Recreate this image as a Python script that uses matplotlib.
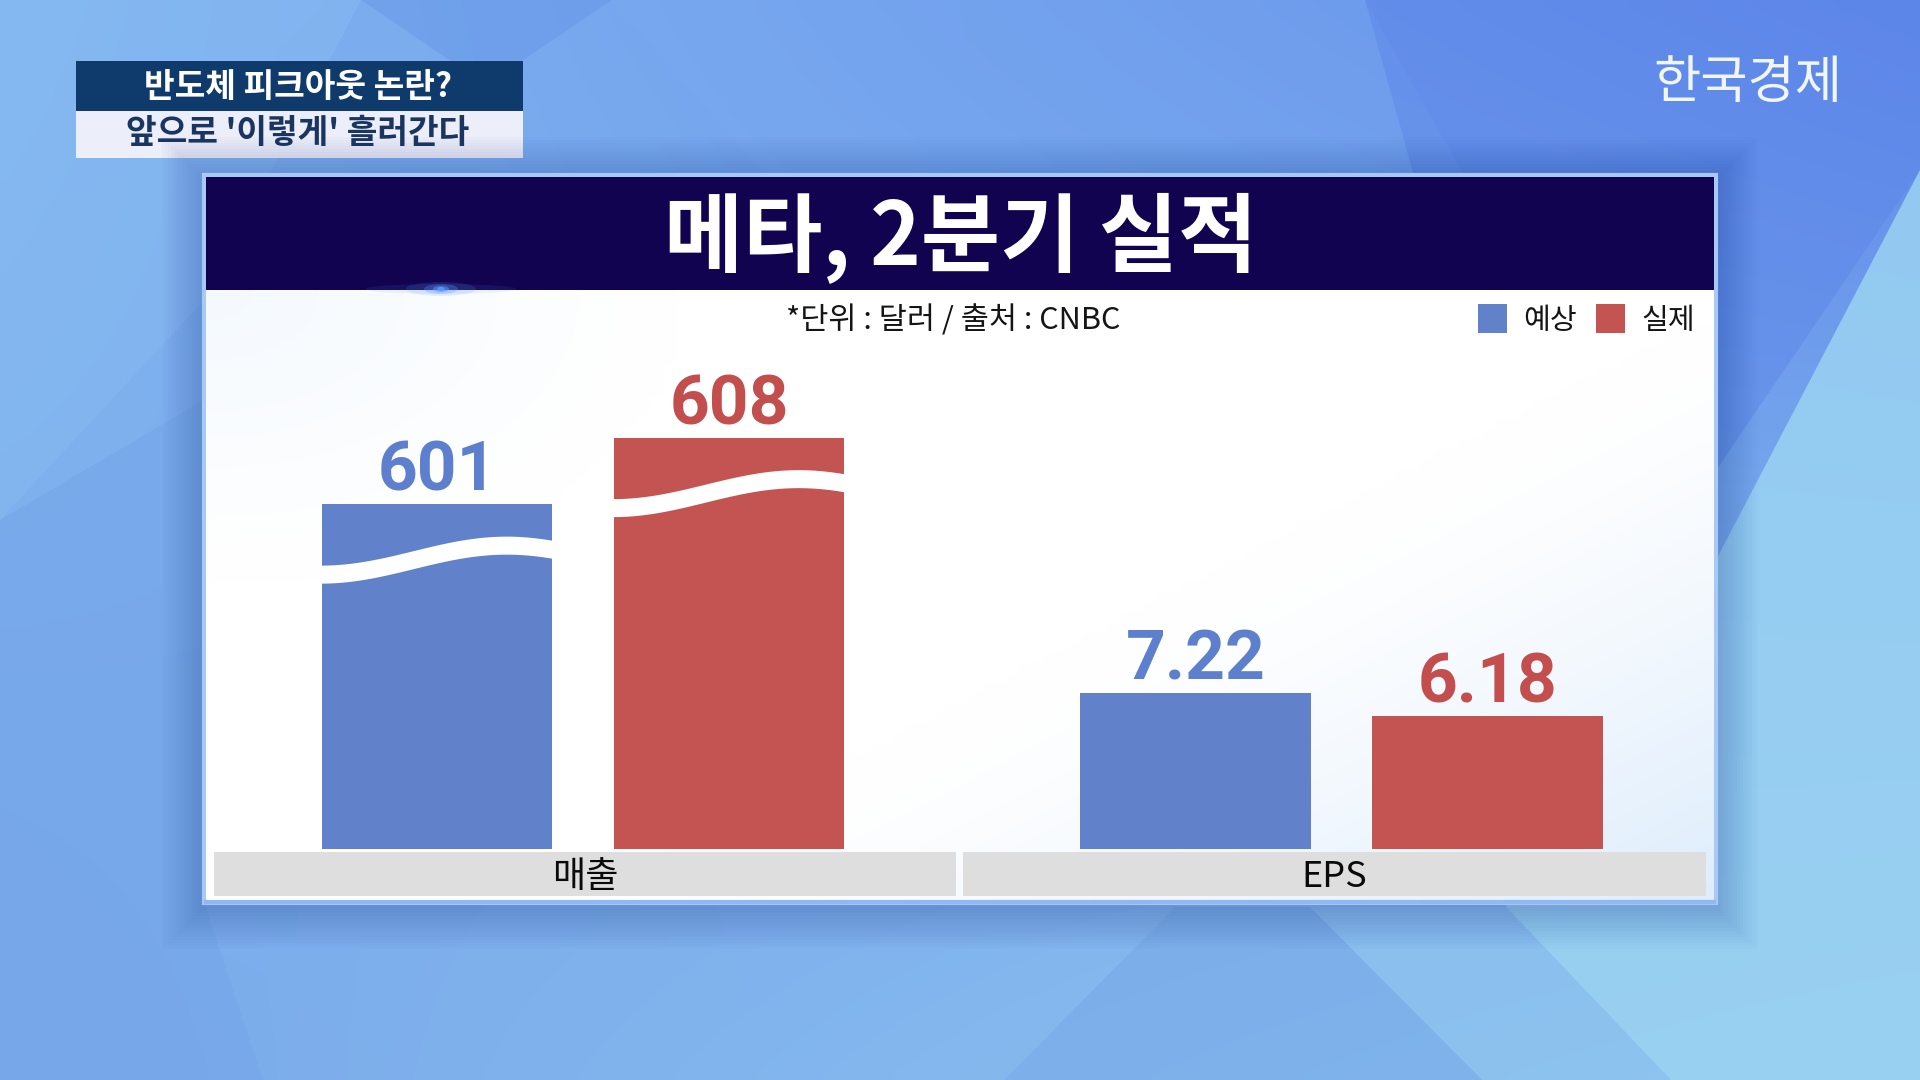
import numpy as np
import matplotlib
matplotlib.use("Agg")
import matplotlib.pyplot as plt
from matplotlib import font_manager as fm
from matplotlib.patches import Rectangle, Polygon, Ellipse
from matplotlib.transforms import IdentityTransform
from matplotlib.colors import to_rgb

# ---------------- data ----------------
title = "메타, 2분기 실적"
unit_note = "*단위 : 달러 / 출처 : CNBC"
categories = ["매출", "EPS"]
series_names = ["예상", "실제"]
expected = [601, 7.22]
actual = [608, 6.18]
expected_labels = ["601", "7.22"]
actual_labels = ["608", "6.18"]
caption_top = "반도체 피크아웃 논란?"
caption_bottom = "앞으로 '이렇게' 흘러간다"
logo_text = "한국경제"

# ---------------- fonts ----------------
KR = "Noto Sans CJK KR"
plt.rcParams["font.family"] = [KR, "DejaVu Sans"]
_names = {f.name for f in fm.fontManager.ttflist}
NUM = "Roboto" if "Roboto" in _names else "DejaVu Sans"
NUM_SIZE = 50

BLUE = "#6182cb"
RED = "#c45452"
LBL_BLUE = "#5d7fcd"
LBL_RED = "#c24f4d"
W, H = 1920, 1080

fig = plt.figure(figsize=(19.2, 10.8), dpi=100)
bg = fig.add_axes([0, 0, 1, 1], zorder=0)
bg.set_xlim(0, W)
bg.set_ylim(H, 0)
bg.axis("off")


def rgb(c):
    return np.array(to_rgb(c))


# ---------------- background ----------------
ny, nx = 108, 192
yy, xx = np.mgrid[0:1:ny * 1j, 0:1:nx * 1j]
tl, tr, bl, br = map(rgb, ["#82b6f0", "#5f88ea", "#7aaaeb", "#8ec6f0"])
img = (((1 - xx) * (1 - yy))[..., None] * tl + (xx * (1 - yy))[..., None] * tr
       + ((1 - xx) * yy)[..., None] * bl + (xx * yy)[..., None] * br)
bg.imshow(img, extent=(0, W, H, 0), aspect="auto", interpolation="bicubic", zorder=0)

facets = [
    ([(361, 0), (612, 0), (486, 85)], "#5f8de4", 0.35),
    ([(612, 0), (1365, 0), (1716, 620), (1716, 175), (765, 175)], "#7aaaf0", 0.35),
    ([(1365, 0), (1920, 0), (1920, 170), (1560, 700)], "#5b84e8", 0.45),
    ([(1920, 170), (1920, 1080), (1671, 1080), (1506, 907), (1716, 560)], "#9bd3f2", 0.85),
    ([(1310, 907), (1506, 907), (1671, 1080), (1482, 1080)], "#8fc4ee", 0.6),
    ([(1175, 907), (1310, 907), (1482, 1080), (1004, 1080)], "#78a9e8", 0.55),
    ([(0, 520), (204, 400), (204, 903), (263, 1080), (0, 1080)], "#6f9fe6", 0.35),
    ([(0, 816), (263, 1080), (0, 1080)], "#7aa8ea", 0.5),
    ([(0, 0), (361, 0), (204, 300), (0, 520)], "#8cc0f2", 0.35),
]
for pts, col, a in facets:
    bg.add_patch(Polygon(pts, closed=True, fc=col, ec="none", alpha=a, zorder=1))

# ---------------- caption box (top-left) ----------------
bg.add_patch(Rectangle((76, 61), 447, 50, fc="#0f3b6c", ec="none", zorder=2))
bg.add_patch(Rectangle((76, 111), 447, 47, fc="#eceef9", ec="none", zorder=2))
bg.text(298, 87, caption_top, ha="center", va="center", fontsize=24,
        color="white", fontweight="bold", zorder=3)
bg.text(298, 134, caption_bottom, ha="center", va="center", fontsize=24,
        color="#1a3560", fontweight="bold", zorder=3)

# ---------------- logo ----------------
bg.text(1748, 83, logo_text, ha="center", va="center", fontsize=37,
        color="#f1f6fd", fontweight="normal", zorder=3)

# ---------------- panel ----------------
PX0, PY0, PX1, PY1 = 204, 175, 1716, 903
for i in range(14):
    g = 3 + i * 3
    bg.add_patch(Rectangle((PX0 - g, PY0 - g + 4), (PX1 - PX0) + 2 * g, (PY1 - PY0) + 2 * g,
                           fc="#1c3f8c", ec="none", alpha=0.018, zorder=2))
bg.add_patch(Rectangle((PX0, PY0), PX1 - PX0, PY1 - PY0, fc="white",
                       ec="#a8c8f6", lw=3, zorder=3))
pny, pnx = 60, 120
py, px = np.mgrid[0:1:pny * 1j, 0:1:pnx * 1j]
wgt = np.clip((px * 0.9 + py * 0.7 - 0.95) / 0.65, 0, 1) ** 1.3
tlw = np.clip(1 - np.hypot(px / 0.3, py / 0.45), 0, 1) * 0.5
pimg = np.ones((pny, pnx, 3))
pimg = pimg * (1 - wgt[..., None]) + rgb("#deedfc") * wgt[..., None]
pimg = pimg * (1 - tlw[..., None]) + rgb("#eaf4fe") * tlw[..., None]
bg.imshow(pimg, extent=(PX0 + 2, PX1 - 2, PY1 - 2, 290), aspect="auto",
          interpolation="bicubic", zorder=3.5)
bg.plot([PX0 + 2, PX1 - 2], [PY1 - 1, PY1 - 1], color="#8fb8f4", lw=3, zorder=3.6)

# header
bg.add_patch(Rectangle((PX0 + 2, PY0 + 2), PX1 - PX0 - 4, 113, fc="#11034f", ec="none", zorder=4))
for rx, ry, a in [(150, 10, 0.10), (70, 14, 0.15), (34, 10, 0.3), (16, 6, 0.55), (7, 4, 0.9)]:
    bg.add_patch(Ellipse((441, 289), rx, ry, fc="#5b96ff", ec="none", alpha=a, zorder=4.2))
bg.text(961, 238, title, ha="center", va="center", fontsize=62, fontweight="black",
        color="white", zorder=5)

# unit note
bg.text(953, 321, unit_note, ha="center", va="center", fontsize=22, color="#151515", zorder=5)

# legend
leg_sq_x = [1478, 1596]
leg_tx_x = [1523, 1641]
for i, (name, col) in enumerate(zip(series_names, [BLUE, RED])):
    bg.add_patch(Rectangle((leg_sq_x[i], 304), 29, 29, fc=col, ec="none", zorder=5))
    bg.text(leg_tx_x[i], 321, name, ha="left", va="center", fontsize=21,
            color="#151515", zorder=5)

# ---------------- bars ----------------
BASE_PX, TOP_PX = 849, 300
group_px = [(214, 956), (962.5, 1706)]
xlims = [(-0.7637, 1.7774), (-0.7966, 1.747)]
px_per_unit = [9.5, 21.6]
y_floor = [564.7, 0.0]
BAR_W = 0.79

axes = []
for gi in range(len(categories)):
    x0, x1 = group_px[gi]
    ax = fig.add_axes([x0 / W, (H - BASE_PX) / H, (x1 - x0) / W, (BASE_PX - TOP_PX) / H], zorder=5)
    ax.patch.set_alpha(0)
    for s in ax.spines.values():
        s.set_visible(False)
    ax.set_xticks([])
    ax.set_yticks([])
    ax.set_xlim(*xlims[gi])
    ax.set_ylim(y_floor[gi], y_floor[gi] + (BASE_PX - TOP_PX) / px_per_unit[gi])
    vals = [expected[gi], actual[gi]]
    labs = [expected_labels[gi], actual_labels[gi]]
    bars = ax.bar([0, 1], vals, width=BAR_W, color=[BLUE, RED], zorder=2)
    for xpos, v, lab, lc in zip([0, 1], vals, labs, [LBL_BLUE, LBL_RED]):
        ax.annotate(lab, (xpos, v), xytext=(0, 9.5), textcoords="offset points",
                    ha="center", va="baseline", fontsize=NUM_SIZE, fontweight="bold",
                    family=NUM, color=lc, zorder=4, annotation_clip=False)
    axes.append((ax, bars))

    # category label box
    bg.add_patch(Rectangle((x0, 852), x1 - x0, 44, fc="#dedede", ec="none", zorder=5))
    bg.text((x0 + x1) / 2, 877, categories[gi], ha="center", va="center", fontsize=26,
            color="#0a0a0a", zorder=6)

# broken-axis wave on revenue bars
ax_rev, rev_bars = axes[0]
t = np.linspace(0, 1, 120)
for b in rev_bars:
    (X0, Yt), (X1, _) = ax_rev.transData.transform(
        [(b.get_x(), b.get_height()), (b.get_x() + b.get_width(), b.get_height())])
    xs = X0 - 1 + t * (X1 - X0 + 2)
    top_edge = Yt - 47 + 14.5 * np.sin(np.pi * (1.25 * t - 0.5))
    bot_edge = top_edge - 18
    verts = np.vstack([np.column_stack([xs, top_edge]),
                       np.column_stack([xs[::-1], bot_edge[::-1]])])
    ax_rev.add_patch(Polygon(verts, closed=True, fc="white", ec="none",
                             transform=IdentityTransform(), zorder=3, clip_on=False))

fig.savefig("out.png", dpi=100)
